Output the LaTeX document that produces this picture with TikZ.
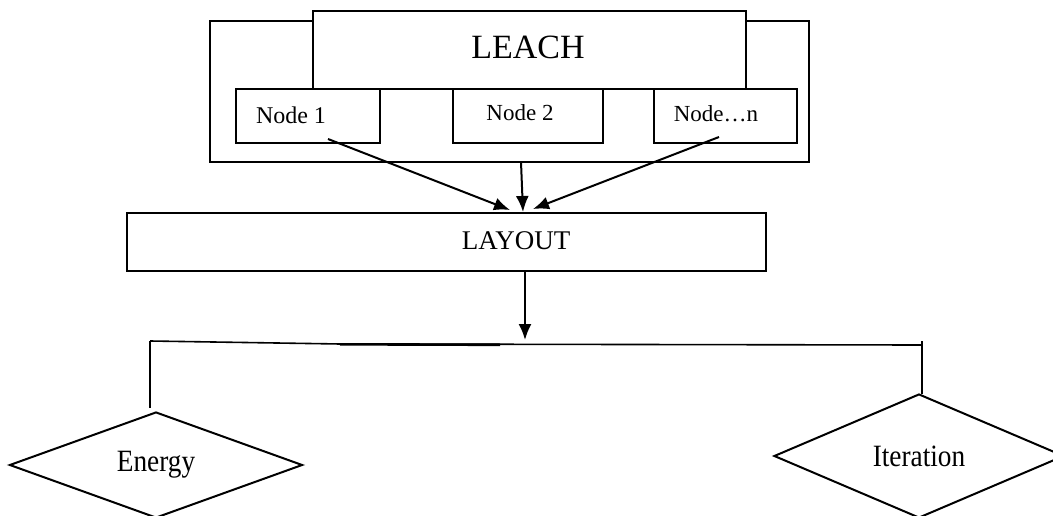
\documentclass[tikz,border=0pt]{standalone}
\usepackage{fontspec}
\setmainfont{Liberation Serif}
\usetikzlibrary{arrows.meta,shapes.geometric}
\tikzset{
  box/.style={draw=black, fill=white, line width=2pt, inner sep=0pt, anchor=center},
  lbl/.style={inner sep=0pt, anchor=center, text=black},
  arr/.style={line width=2pt, -{Latex[length=16pt,width=13pt]}},
  ln/.style={line width=1.6pt},
  dia/.style={draw=black, fill=white, line width=2pt, diamond, inner sep=0pt, anchor=center}
}
\newcommand{\fs}[1]{\fontsize{#1}{#1}\selectfont}
\begin{document}
\begin{tikzpicture}[x=1pt,y=-1pt]
\useasboundingbox (0,0) rectangle (1053,516);
\clip (0,0) rectangle (1053,516);
\fill[white] (0,0) rectangle (1053,516);
% boxes
\node[box, minimum width=599pt, minimum height=141pt] (outer) at (509.5,91.5) {};
\node[box, minimum width=433pt, minimum height=78pt] (leach) at (529.5,50) {};
\node[box, minimum width=144pt, minimum height=54pt] (n1) at (308,116) {};
\node[box, minimum width=150pt, minimum height=54pt] (n2) at (528,116) {};
\node[box, minimum width=143pt, minimum height=54pt] (nn) at (725.5,116) {};
\node[box, minimum width=639pt, minimum height=58pt] (layout) at (446.5,242) {};
% texts
\node[lbl, font=\fs{34}] (tleach) at (528,47) {LEACH};
\node[lbl, font=\fs{24}] (tn1) at (291,115) {Node 1};
\node[lbl, font=\fs{23}] (tn2) at (520,113) {Node 2};
\node[lbl, font=\fs{23}] (tnn) at (716,114) {Node…n};
\node[lbl, font=\fs{27}] (tlayout) at (516,241) {LAYOUT};
% diamonds
\node[dia, minimum width=293pt, minimum height=106pt, font=\fs{31}] (energy) at (156,465) {\scalebox{0.88}[1]{Energy}};
\node[dia, minimum width=290pt, minimum height=124pt, font=\fs{31}] (iter) at (919,456) {\scalebox{0.88}[1]{Iteration}};
% connectors
\coordinate (s1) at (328,139);
\coordinate (e1) at (510,210);
\coordinate (s2) at (521,162);
\coordinate (e2) at (523,212);
\coordinate (s3) at (719,137);
\coordinate (e3) at (533,209);
\draw[arr] (s1) -- (e1);
\draw[arr] (s2) -- (e2);
\draw[arr] (s3) -- (e3);
\coordinate (ls) at (525,271);
\coordinate (le) at (525,340);
\draw[arr] (ls) -- (le);
\coordinate (hl) at (150,341);
\coordinate (hm) at (340,344);
\coordinate (hr) at (922,345);
\coordinate (hrt) at (922,341);
\coordinate (vl) at (150,408);
\coordinate (vr) at (922,394);
\draw[ln] (hl) -- (hm) -- (hr);
\draw[line width=2.6pt] (340,344.3) -- (500,344.8);
\draw[ln] (hl) -- (vl);
\draw[ln] (hrt) -- (vr);
\end{tikzpicture}
\end{document}
